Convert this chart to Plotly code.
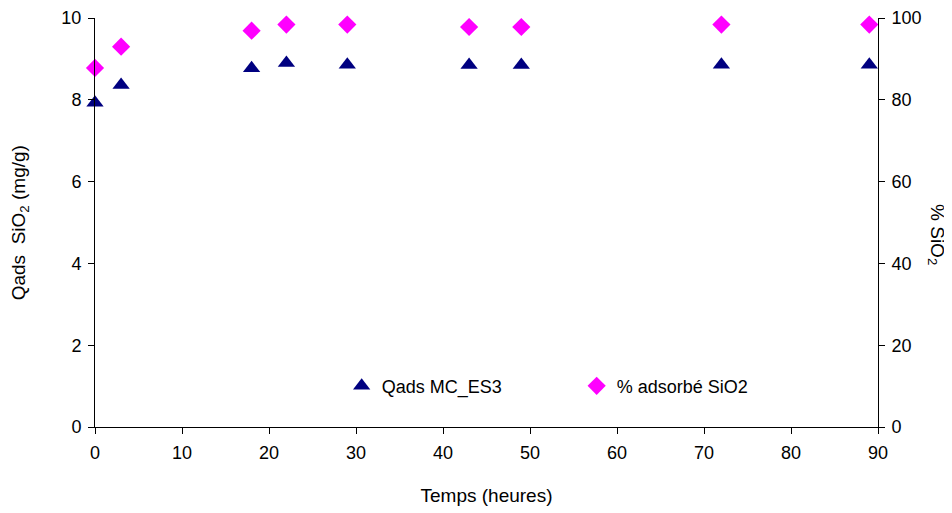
import plotly.graph_objects as go

temps = [0, 3, 18, 22, 29, 43, 49, 72, 89]
qads = [7.93, 8.36, 8.77, 8.90, 8.86, 8.85, 8.85, 8.86, 8.86]
pct_ads = [87.8, 93.0, 96.9, 98.4, 98.4, 97.8, 97.8, 98.4, 98.4]

x_ticks = [0, 10, 20, 30, 40, 50, 60, 70, 80, 90]
y1_ticks = [0, 2, 4, 6, 8, 10]
y2_ticks = [0, 20, 40, 60, 80, 100]

font = "Liberation Sans, Arial, sans-serif"

fig = go.Figure()
fig.add_trace(go.Scatter(
    x=temps, y=qads, mode="markers", name="Qads MC_ES3",
    marker=dict(symbol="triangle-up", size=15, color="#000080"),
    yaxis="y", cliponaxis=False,
))
fig.add_trace(go.Scatter(
    x=temps, y=pct_ads, mode="markers", name="% adsorbé SiO2",
    marker=dict(symbol="diamond", size=14, color="#FF00FF"),
    yaxis="y2", cliponaxis=False,
))

axis_common = dict(showgrid=False, zeroline=False, showline=True, linecolor="black",
                   linewidth=1, ticks="outside", ticklen=6, tickcolor="black",
                   automargin=False, ticklabelstandoff=3,
                   tickfont=dict(size=18, color="black", family=font))

fig.update_layout(
    width=944, height=505,
    margin=dict(l=87, r=74, t=10, b=86, autoexpand=False),
    paper_bgcolor="white", plot_bgcolor="white",
    font=dict(family=font, color="black", size=18),
    showlegend=True,
    legend=dict(orientation="h", x=0.315, y=0.1, xanchor="left", yanchor="middle",
                entrywidth=190, entrywidthmode="pixels", itemwidth=30,
                font=dict(size=18, family=font), bgcolor="rgba(0,0,0,0)", itemsizing="trace"),
    xaxis=dict(range=[0, 90], tickvals=x_ticks, **axis_common,
               title=dict(text="Temps (heures)", font=dict(size=19, family=font), standoff=27)),
    yaxis=dict(range=[0, 10], tickvals=y1_ticks, **axis_common),
    yaxis2=dict(range=[0, 100], tickvals=y2_ticks, overlaying="y", side="right", **axis_common),
    annotations=[
        dict(text="Qads  SiO<sub>2</sub> (mg/g)", xref="paper", yref="paper", x=-0.096, y=0.5,
             xanchor="center", yanchor="middle", textangle=-90, showarrow=False,
             font=dict(size=19, family=font)),
        dict(text="% SiO<sub>2</sub>", xref="paper", yref="paper", x=1.075, y=0.47,
             xanchor="center", yanchor="middle", textangle=90, showarrow=False,
             font=dict(size=19, family=font)),
    ],
)

fig.write_html("out.html")
